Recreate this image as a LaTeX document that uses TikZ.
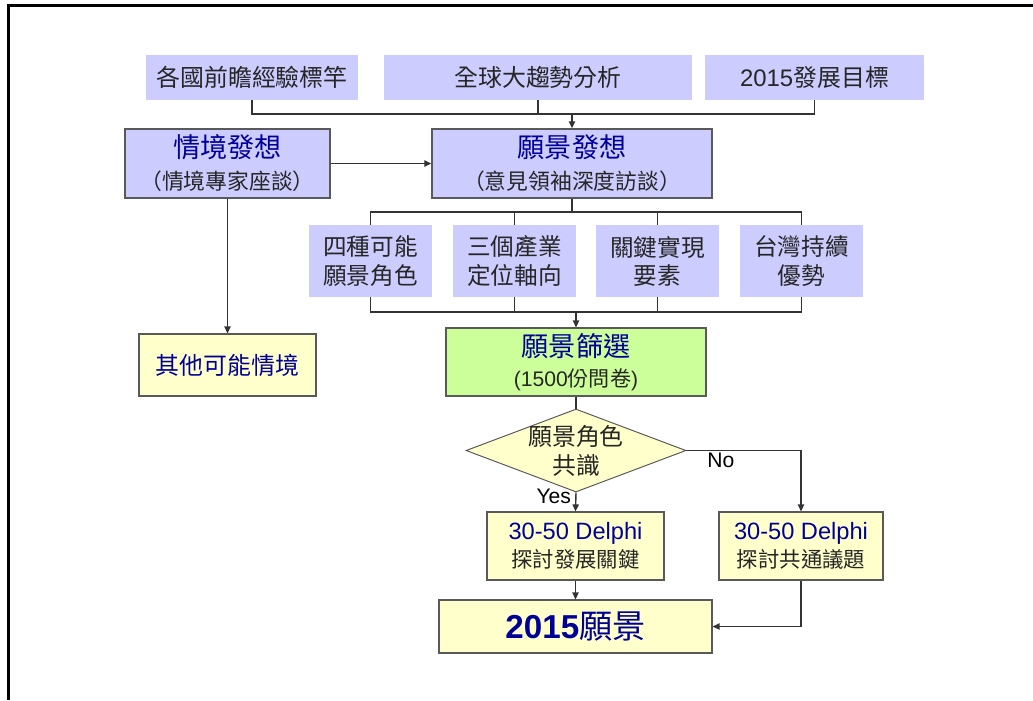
\documentclass[tikz,border=0pt]{standalone}
\usepackage{fontspec}
\setmainfont{Noto Sans CJK TC}
\newfontfamily\arial{Liberation Sans}
\usepackage{tikz}
\usetikzlibrary{arrows.meta, shapes.geometric}
\usepackage{xcolor}
\definecolor{boxblue}{HTML}{CCCCFF}
\definecolor{boxgreen}{HTML}{CCFF99}
\definecolor{boxyellow}{HTML}{FFFFCC}
\definecolor{textblue}{HTML}{000099}
\definecolor{textgray}{HTML}{262626}
\definecolor{edgegray}{HTML}{595959}
\definecolor{linegray}{HTML}{333333}
\newcommand{\pu}{0.025cm}
\newcommand{\headfont}{\fontsize{19.3}{22}\selectfont\color{textblue}}
\newcommand{\delphifont}{\arial\fontsize{16.8}{20}\selectfont\color{textblue}}

\begin{document}
\begin{tikzpicture}[x=0.025cm, y=-0.025cm,
    sz/.style 2 args={minimum width=#1*\pu, minimum height=#2*\pu},
    srcbox/.style={fill=boxblue, inner sep=0pt, text=textgray,
        font=\fontsize{17}{20}\selectfont},
    ideabox/.style={draw=edgegray, line width=1pt, fill=boxblue, align=center,
        inner sep=0pt, text=textgray, font=\fontsize{15.5}{22.8}\selectfont},
    facetbox/.style={fill=boxblue, align=center, inner sep=0pt, text=textgray,
        font=\fontsize{16.8}{20}\selectfont},
    notebox/.style={draw=edgegray, line width=0.8pt, fill=boxyellow, align=center,
        inner sep=0pt, text=textgray},
    greenbox/.style={draw=edgegray, line width=0.8pt, fill=boxgreen, align=center,
        inner sep=0pt, text=textgray, font=\fontsize{15}{21.3}\selectfont},
    decbox/.style={diamond, draw=edgegray, line width=0.7pt, fill=boxyellow,
        inner sep=0pt, sz={220}{83}},
    link/.style={draw=linegray, line width=1pt},
    arr/.style={link, -{Triangle[length=5pt,width=4.5pt]}},
    tag/.style={font=\arial\fontsize{15}{18}\selectfont, text=black, inner sep=1pt}
  ]

  % Page frame
  \useasboundingbox (0,0) rectangle (1033,700);
  \draw[line width=2.2pt] (1033,5.5) -- (8.5,5.5) -- (8.5,700);

  % Sources
  \node[srcbox, sz={212}{45}] (bench) at (252,77.5) {各國前瞻經驗標竿};
  \node[srcbox, sz={308}{45}] (trend) at (538,77.5) {全球大趨勢分析};
  \node[srcbox, sz={219}{45}] (goal) at (814.5,77.5) {{\arial 2015}發展目標};

  % Idea generation
  \node[ideabox, sz={205}{69}] (scene) at (227.5,163.5)
      {{\headfont 情境發想}\\（情境專家座談）};
  \node[ideabox, sz={280}{69}] (vision) at (572,163.5)
      {{\headfont 願景發想}\\（意見領袖深度訪談）};

  % Four facets
  \node[facetbox, sz={123}{72}] (roles) at (370.5,261) {四種可能\\願景角色};
  \node[facetbox, sz={123}{72}] (axes) at (514.5,261) {三個產業\\定位軸向};
  \node[facetbox, sz={123}{72}] (keys) at (657.5,261) {關鍵實現\\要素};
  \node[facetbox, sz={123}{72}] (strength) at (801.5,261) {台灣持續\\優勢};

  % Other scenarios and screening
  \node[notebox, sz={177}{62}, text=textblue, font=\fontsize{17}{20}\selectfont]
      (others) at (227.5,365) {其他可能情境};
  \node[greenbox, sz={260}{68}] (screen) at (576,362)
      {{\headfont 願景篩選}\\{\arial (1500}份問卷{\arial )}};

  % Decision
  \node[decbox] (consensus) at (576,450.5) {};
  \node[align=center, text=textgray, font=\fontsize{17}{20.6}\selectfont]
      (consensustext) at (consensus) {願景角色\\共識};

  % Delphi rounds
  \node[notebox, sz={177}{68}, font=\fontsize{15.2}{20}\selectfont] (devkey) at (575.5,546)
      {{\delphifont 30-50 Delphi}\\探討發展關鍵};
  \node[notebox, sz={164}{68}, font=\fontsize{15.2}{20}\selectfont] (common) at (801,546)
      {{\delphifont 30-50 Delphi}\\探討共通議題};

  % Result
  \node[notebox, sz={273}{53}, text=textblue, font=\fontsize{23.6}{26}\selectfont]
      (final) at (575.5,626.5) {{\arial\bfseries 2015}願景};

  % Connectors
  \coordinate (topbus) at (572,114);
  \draw[link] (bench.south) |- (goal.south |- topbus) -- (goal.south);
  \draw[link] (trend.south) -- (trend.south |- topbus);
  \draw[arr] (topbus) -- (vision.north);
  \draw[arr] (scene.east) -- (vision.west);
  \draw[arr] (scene.south) -- (others.north);

  \coordinate (upbus) at (572,212);
  \coordinate (lowbus) at (576,312);
  \draw[link] (vision.south) -- (upbus);
  \draw[link] (roles.north) |- (strength.north |- upbus) -- (strength.north);
  \draw[link] (axes.north) -- (axes.north |- upbus);
  \draw[link] (keys.north) -- (keys.north |- upbus);
  \draw[link] (roles.south) |- (strength.south |- lowbus) -- (strength.south);
  \draw[link] (axes.south) -- (axes.south |- lowbus);
  \draw[link] (keys.south) -- (keys.south |- lowbus);
  \draw[arr] (lowbus) -- (screen.north);

  \draw[link] (screen.south) -- (consensus.north);
  \draw[arr] (consensus.south) -- node[tag, left, pos=0.2, xshift=-2pt] {Yes} (devkey.north);
  \draw[arr] (consensus.east) -| node[tag, below, pos=0.15] {No} (common.north);
  \draw[arr] (devkey.south) -- (final.north);
  \draw[arr] (common.south) |- (final.east);

\end{tikzpicture}
\end{document}
